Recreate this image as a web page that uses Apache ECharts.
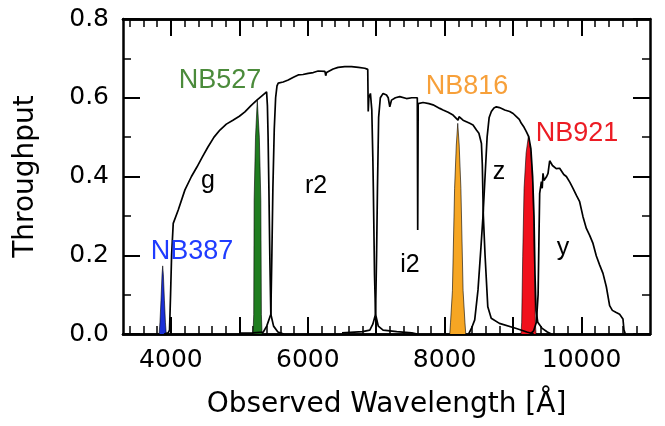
<!DOCTYPE html>
<html>
<head>
<meta charset="utf-8">
<script src="https://cdn.jsdelivr.net/npm/echarts@6/dist/echarts.min.js"></script>
<style>
  html, body { margin: 0; padding: 0; background: #fff; }
  #chart { width: 665px; height: 426px; }
</style>
</head>
<body>
<div id="chart"></div>
<script>
// wavelength [A], throughput
const gBand = [[3900,0],[3960,0.003],[3980,0.01],[3995,0.1],[4010,0.2],[4034,0.281],[4107,0.315],[4205,0.366],[4300,0.4],[4380,0.424],[4460,0.45],[4541,0.475],[4630,0.5],[4716,0.518],[4810,0.533],[4906,0.543],[5000,0.553],[5081,0.564],[5170,0.58],[5256,0.594],[5330,0.605],[5398,0.615],[5410,0.58],[5420,0.5],[5432,0.366],[5445,0.2],[5460,0.05],[5500,0.02],[5563,0.005],[5650,0]];
const r2Band = [[5000,0.002],[5200,0.003],[5350,0.005],[5400,0.02],[5460,0.05],[5475,0.2],[5490,0.37],[5510,0.52],[5530,0.6],[5550,0.63],[5568,0.637],[5640,0.64],[5714,0.645],[5790,0.652],[5860,0.658],[5930,0.659],[6006,0.662],[6080,0.664],[6151,0.668],[6250,0.667],[6262,0.656],[6274,0.664],[6300,0.669],[6370,0.673],[6443,0.677],[6540,0.679],[6639,0.679],[6740,0.677],[6833,0.675],[6876,0.672],[6883,0.565],[6892,0.6],[6915,0.611],[6935,0.57],[6950,0.45],[6958,0.366],[6975,0.15],[6990,0.05],[7030,0.02],[7100,0.01],[7300,0.006],[7520,0.003],[7600,0]];
const i2Band = [[6500,0.003],[6800,0.006],[6906,0.01],[6950,0.025],[6990,0.05],[7005,0.2],[7018,0.37],[7035,0.55],[7060,0.6],[7100,0.611],[7150,0.607],[7175,0.6],[7198,0.577],[7223,0.594],[7280,0.6],[7344,0.603],[7442,0.598],[7520,0.6],[7600,0.6],[7606,0.264],[7613,0.585],[7640,0.585],[7684,0.588],[7709,0.59],[7770,0.585],[7830,0.582],[7928,0.573],[7976,0.569],[8050,0.563],[8122,0.556],[8195,0.543],[8210,0.552],[8230,0.548],[8268,0.543],[8317,0.539],[8366,0.535],[8414,0.531],[8464,0.518],[8500,0.51],[8537,0.484],[8550,0.43],[8565,0.3],[8590,0.2],[8630,0.069],[8680,0.04],[8800,0.027],[9048,0.014],[9200,0.005],[9300,0]];
const zBand = [[8350,0],[8391,0.014],[8439,0.036],[8487,0.112],[8530,0.22],[8560,0.3],[8590,0.4],[8620,0.5],[8650,0.55],[8682,0.565],[8720,0.574],[8755,0.577],[8800,0.575],[8840,0.572],[8877,0.569],[8950,0.565],[9000,0.56],[9048,0.552],[9090,0.545],[9120,0.535],[9160,0.525],[9193,0.514],[9228,0.501],[9260,0.47],[9285,0.4],[9305,0.3],[9320,0.15],[9335,0.06],[9360,0.03],[9420,0.015],[9500,0.005],[9560,0]];
const yBand = [[9250,0],[9300,0.008],[9340,0.03],[9365,0.1],[9378,0.25],[9388,0.357],[9413,0.387],[9425,0.37],[9437,0.408],[9450,0.39],[9470,0.385],[9490,0.4],[9510,0.408],[9534,0.44],[9545,0.435],[9559,0.442],[9575,0.428],[9600,0.425],[9630,0.42],[9680,0.421],[9700,0.416],[9740,0.405],[9778,0.4],[9830,0.385],[9875,0.37],[9925,0.352],[9972,0.336],[10021,0.298],[10070,0.268],[10120,0.25],[10167,0.23],[10216,0.198],[10265,0.175],[10313,0.154],[10362,0.12],[10410,0.072],[10450,0.06],[10500,0.055],[10556,0.05],[10605,0.038],[10620,0.01],[10640,0]];

const nb387 = [[3828,0],[3840,0.03],[3855,0.086],[3870,0.15],[3880,0.173],[3890,0.15],[3905,0.086],[3920,0.03],[3932,0]];
const nb527 = [[5200,0],[5210,0.05],[5216,0.34],[5236,0.5],[5262,0.594],[5292,0.5],[5314,0.34],[5322,0.05],[5332,0]];
const nb816 = [[8074,0],[8086,0.03],[8113,0.11],[8145,0.37],[8170,0.48],[8191,0.535],[8212,0.48],[8237,0.37],[8269,0.11],[8296,0.03],[8308,0]];
const nb921 = [[9115,0],[9125,0.03],[9140,0.196],[9160,0.37],[9190,0.46],[9225,0.505],[9260,0.46],[9290,0.37],[9310,0.196],[9325,0.03],[9335,0]];

const xMajor = [4000, 5000, 6000, 7000, 8000, 9000, 10000];
const xLabels = [4000, 6000, 8000, 10000];
const xMinor = [3400,3600,3800,4200,4400,4600,4800,5200,5400,5600,5800,6200,6400,6600,6800,7200,7400,7600,7800,8200,8400,8600,8800,9200,9400,9600,9800,10200,10400,10600,10800];

const chart = echarts.init(document.getElementById('chart'));

const axisFont = 'DejaVu Sans';
const lblFont = 'Liberation Sans';

function xAx(pos, ticks, len, width, labels) {
  return {
    type: 'value', position: pos, min: 3300, max: 11000,
    axisLine: { show: true, lineStyle: { color: '#000', width: 2.5 } },
    axisTick: { show: true, inside: true, length: len, customValues: ticks, lineStyle: { color: '#000', width: width } },
    axisLabel: labels
      ? { show: true, customValues: xLabels, margin: 14, fontSize: 25, color: '#000', fontFamily: axisFont, formatter: (v) => String(v) }
      : { show: false },
    splitLine: { show: false }
  };
}

function yAx(pos, labels) {
  return {
    type: 'value', position: pos, min: 0, max: 0.8, interval: 0.2,
    axisLine: { show: true, lineStyle: { color: '#000', width: 2.5 } },
    axisTick: { show: true, inside: true, length: 17, lineStyle: { color: '#000', width: 2 } },
    minorTick: { show: true, splitNumber: 2, length: 8, lineStyle: { color: '#000', width: 1.5 } },
    axisLabel: labels
      ? { show: true, margin: 14, fontSize: 25, color: '#000', fontFamily: axisFont, formatter: (v) => v.toFixed(1) }
      : { show: false },
    splitLine: { show: false }
  };
}

const xMain = xAx('bottom', xMajor, 17, 2, true);
xMain.name = 'Observed Wavelength [Å]';
xMain.nameLocation = 'middle';
xMain.nameGap = 57;
xMain.nameTextStyle = { fontSize: 28, color: '#000', fontFamily: axisFont };

const yMain = yAx('left', true);
yMain.name = 'Throughput';
yMain.nameLocation = 'middle';
yMain.nameGap = 83;
yMain.nameTextStyle = { fontSize: 28, color: '#000', fontFamily: axisFont };

function band(data) {
  return {
    type: 'line', data: data, showSymbol: false, symbol: 'none', xAxisIndex: 0, yAxisIndex: 0,
    lineStyle: { color: '#000', width: 1.7 }, z: 3
  };
}

function narrow(data, fill) {
  return {
    type: 'line', data: data, showSymbol: false, symbol: 'none', xAxisIndex: 0, yAxisIndex: 0,
    lineStyle: { color: 'rgba(0,0,0,0.75)', width: 0.8 },
    areaStyle: { color: fill, opacity: 1 }, z: 2
  };
}

function label(text, x, y, color, size, font) {
  return {
    type: 'text', x: x, y: y, z: 10,
    style: { text: text, fill: color, fontSize: size, fontFamily: font, textAlign: 'center', textVerticalAlign: 'middle' }
  };
}

chart.setOption({
  animation: false,
  backgroundColor: '#fff',
  grid: { left: 123, top: 19, width: 527, height: 315, outerBoundsMode: 'none' },
  xAxis: [xMain, xAx('bottom', xMinor, 8, 1.5, false), xAx('top', xMajor, 17, 2, false), xAx('top', xMinor, 8, 1.5, false)],
  yAxis: [yMain, yAx('right', false)],
  series: [
    narrow(nb387, '#1a2fd6'),
    narrow(nb527, '#1f7d1f'),
    narrow(nb816, '#f6a623'),
    narrow(nb921, '#f0101c'),
    band(gBand),
    band(r2Band),
    band(i2Band),
    band(zBand),
    band(yBand)
  ],
  graphic: [
    label('g', 208, 181, '#000', 25, lblFont),
    label('r2', 316, 186, '#000', 25, lblFont),
    label('i2', 410, 265, '#000', 25, lblFont),
    label('z', 499, 172, '#000', 25, lblFont),
    label('y', 563, 248, '#000', 25, lblFont),
    label('NB387', 192, 252, '#1f3cff', 27, lblFont),
    label('NB527', 220, 81, '#4b8b3b', 27, lblFont),
    label('NB816', 467, 87, '#f7a03a', 27, lblFont),
    label('NB921', 577, 134, '#ec1c24', 27, lblFont)
  ]
});
</script>
</body>
</html>
